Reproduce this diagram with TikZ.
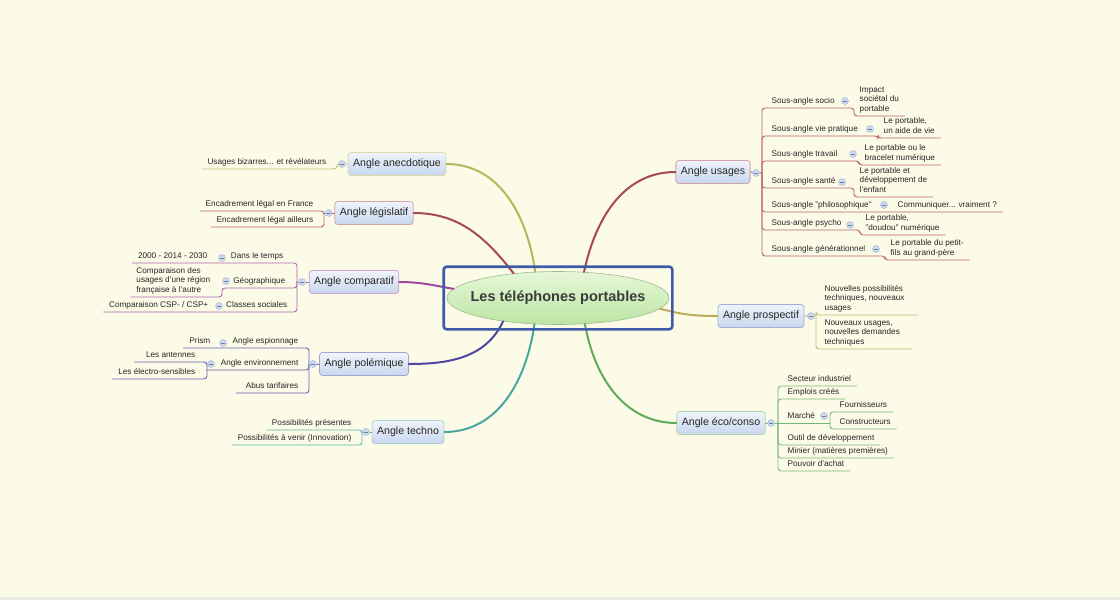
\documentclass[tikz,border=0pt]{standalone}
\usepackage{fontspec}
\setmainfont{Liberation Sans}
\usepackage{tikz}
\usetikzlibrary{shapes.geometric, fit, positioning}
\definecolor{bgc}{HTML}{FCFBE8}
\definecolor{stripc}{HTML}{ECECE6}
\definecolor{txt}{HTML}{262626}
\definecolor{tTop}{HTML}{F0F4FC}
\definecolor{tBot}{HTML}{C8D7EE}
\definecolor{rTop}{HTML}{E6F7D8}
\definecolor{rBot}{HTML}{BDE5A3}
\definecolor{rDraw}{HTML}{9DBB8E}
\definecolor{cFrame}{HTML}{3E5BA9}
\definecolor{fFill}{HTML}{CCDAF0}
\definecolor{fDraw}{HTML}{9FB3D6}
\definecolor{cAnec}{HTML}{B7B65A}
\definecolor{cLegis}{HTML}{A9475A}
\definecolor{cComp}{HTML}{A1479E}
\definecolor{cPolem}{HTML}{4D47A3}
\definecolor{cTechno}{HTML}{49A6A3}
\definecolor{cUsages}{HTML}{A9484F}
\definecolor{cProsp}{HTML}{BBAD58}
\definecolor{cEco}{HTML}{5FAA5B}
\newcommand{\leafsz}{\fontsize{8.2}{9.5}\selectfont}
\newcommand{\topicsz}{\fontsize{10.6}{12}\selectfont}
\newcommand{\rootsz}{\fontsize{14.5}{16}\selectfont\bfseries}

\begin{document}
\begin{tikzpicture}[x=1pt,y=-1pt,line cap=round,line join=round,
  leaf/.style={font=\leafsz, text=txt, inner xsep=1.5pt, inner ysep=2pt, text depth=2.5pt, align=left},
  topic/.style={rectangle, rounded corners=3pt, top color=tTop, bottom color=tBot, draw=#1, line width=0.8pt, font=\topicsz, text=txt, inner xsep=5pt, minimum height=23pt},
  fold/.style={circle, fill=fFill, draw=fDraw, line width=0.4pt, minimum size=7pt, inner sep=0pt,
    path picture={\draw[fDraw!70!black, line width=0.7pt] ([xshift=-1.8pt]path picture bounding box.center) -- ([xshift=1.8pt]path picture bounding box.center);}},
  link/.style={line width=2pt, #1},
  sub/.style={line width=0.9pt, rounded corners=3pt, #1!85}]

  % background
  \fill[bgc] (0,0) rectangle (1120,600);
  \fill[stripc] (0,597) rectangle (1120,600);

  % central topic
  \node[ellipse, minimum width=222pt, minimum height=53pt, inner sep=0pt, top color=rTop, bottom color=rBot,
    draw=rDraw, line width=0.6pt] (root) at (558,298) {};
  \node[font=\rootsz, text=txt!90] (roottxt) at (root.center) {Les téléphones portables};

  % main topics
  \node[topic=cAnec!50] (anec) at (397,164) {Angle anecdotique};
  \node[topic=cLegis!50] (legis) at (374,213) {Angle législatif};
  \node[topic=cComp!50] (comp) at (354,282) {Angle comparatif};
  \node[topic=cPolem!50] (polem) at (364,364) {Angle polémique};
  \node[topic=cTechno!50] (techno) at (408,432) {Angle techno};
  \node[topic=cUsages!50] (usages) at (713,172) {Angle usages};
  \node[topic=fDraw] (prosp) at (761,316) {Angle prospectif};
  \node[topic=cEco!50] (eco) at (721,423) {Angle éco/conso};

  % links to the centre
  \draw[link=cAnec] (anec.east) to[out=0,in=98] (root.131);
  \draw[link=cLegis] (legis.east) to[out=0,in=128] (root.151);
  \draw[link=cComp] (comp.east) to[out=0,in=170] (root.175);
  \draw[link=cPolem] (root.203) to[out=245,in=0] (polem.east);
  \draw[link=cTechno] (root.228) to[out=262,in=0] (techno.east);
  \draw[link=cUsages] (usages.west) to[out=180,in=78] (root.45);
  \draw[link=cProsp] (root.354) to[out=-15,in=180] (prosp.west);
  \draw[link=cEco] (root.316) to[out=280,in=180] (eco.west);
  \node[draw=cFrame, line width=2.6pt, rounded corners=3pt, inner xsep=3pt, inner ysep=4.5pt, fit=(root)] (frame) {};

  % anecdotique
  \coordinate (asp) at (337,164);
  \node[leaf, anchor=south east] (a1) at (328,169) {Usages bizarres... et révélateurs};
  \draw[sub=cAnec] (anec.west) -- (asp) |- (a1.south east) -- ([xshift=-4pt]a1.south west);

  % legislatif
  \coordinate (lsp) at (324,213);
  \node[leaf, anchor=south east] (l1) at (315,211) {Encadrement légal en France};
  \node[leaf, anchor=south east] (l2) at (315,227) {Encadrement légal ailleurs};
  \draw[sub=cLegis] (legis.west) -- (lsp);
  \draw[sub=cLegis] (lsp) |- (l1.south east) -- ([xshift=-4pt]l1.south west);
  \draw[sub=cLegis] (lsp) |- (l2.south east) -- ([xshift=-4pt]l2.south west);

  % comparatif
  \coordinate (csp) at (297,282);
  \node[leaf, anchor=south east] (k1) at (285,263) {Dans le temps};
  \node[leaf, anchor=south east] (k1c) at (209,263) {2000 - 2014 - 2030};
  \node[leaf, anchor=south east] (k2) at (287,288) {Géographique};
  \node[leaf, anchor=south east] (k2c) at (212,297) {Comparaison des\\usages d'une région\\française à l'autre};
  \node[leaf, anchor=south east] (k3) at (289,312) {Classes sociales};
  \node[leaf, anchor=south east] (k3c) at (210,312) {Comparaison CSP- / CSP+};
  \draw[sub=cComp] (comp.west) -- (csp);
  \draw[sub=cComp] (csp) |- (k1.south east) -- ([xshift=-4pt]k1c.south west);
  \draw[sub=cComp] (csp) |- (k2.south east) -| ([xshift=10pt]k2c.south east) -- ([xshift=-4pt]k2c.south west);
  \draw[sub=cComp] (csp) |- (k3.south east) -- ([xshift=-4pt]k3c.south west);

  % polemique
  \coordinate (qsp) at (309,364);
  \node[leaf, anchor=south east] (q1) at (300,348) {Angle espionnage};
  \node[leaf, anchor=south east] (q1c) at (212,348) {Prism};
  \node[leaf, anchor=south east] (q2) at (300,370) {Angle environnement};
  \coordinate (q2sp) at (207,370);
  \node[leaf, anchor=south east] (q2a) at (197,362) {Les antennes};
  \node[leaf, anchor=south east] (q2b) at (197,379) {Les électro-sensibles};
  \node[leaf, anchor=south east] (q3) at (300,393) {Abus tarifaires};
  \draw[sub=cPolem] (polem.west) -- (qsp);
  \draw[sub=cPolem] (qsp) |- (q1.south east) -- ([xshift=-4pt]q1c.south west);
  \draw[sub=cPolem] (qsp) |- (q2.south east) -- (q2sp);
  \draw[sub=cPolem] (q2sp) |- (q2a.south east) -- ([xshift=-10pt]q2a.south west);
  \draw[sub=cPolem] (q2sp) |- (q2b.south east) -- ([xshift=-4pt]q2b.south west);
  \draw[sub=cPolem] (qsp) |- (q3.south east) -- ([xshift=-8pt]q3.south west);

  % techno
  \coordinate (tsp) at (362,432);
  \node[leaf, anchor=south east] (t1) at (353,430) {Possibilités présentes};
  \node[leaf, anchor=south east] (t2) at (353,445) {Possibilités à venir (Innovation)};
  \draw[sub=cTechno] (techno.west) -- (tsp);
  \draw[sub=cTechno] (tsp) |- (t1.south east) -- ([xshift=-4pt]t1.south west);
  \draw[sub=cTechno] (tsp) |- (t2.south east) -- ([xshift=-4pt]t2.south west);

  % usages
  \coordinate (usp) at (762,173);
  \node[leaf, anchor=south west] (s1) at (770,108) {Sous-angle socio};
  \node[leaf, anchor=south west] (s1c) at (858,116) {Impact\\sociétal du\\portable};
  \node[leaf, anchor=south west] (s2) at (770,136) {Sous-angle vie pratique};
  \node[leaf, anchor=south west] (s2c) at (882,138) {Le portable,\\un aide de vie};
  \node[leaf, anchor=south west] (s3) at (770,161) {Sous-angle travail};
  \node[leaf, anchor=south west] (s3c) at (863,165) {Le portable ou le\\bracelet numérique};
  \node[leaf, anchor=south west] (s4) at (770,188) {Sous-angle santé};
  \node[leaf, anchor=south west] (s4c) at (858,197) {Le portable et\\développement de\\l'enfant};
  \node[leaf, anchor=south west] (s5) at (770,212) {Sous-angle "philosophique"};
  \node[leaf, anchor=south west] (s5c) at (896,212) {Communiquer... vraiment ?};
  \node[leaf, anchor=south west] (s6) at (770,230) {Sous-angle psycho};
  \node[leaf, anchor=south west] (s6c) at (864,235) {Le portable,\\"doudou" numérique};
  \node[leaf, anchor=south west] (s7) at (770,256) {Sous-angle générationnel};
  \node[leaf, anchor=south west] (s7c) at (889,260) {Le portable du petit-\\fils au grand-père};
  \draw[sub=cUsages] (usages.east) -- (usp);
  \draw[sub=cUsages] (usp) |- (s1.south west) -| ([xshift=-4pt]s1c.south west) -- ([xshift=4pt]s1c.south east);
  \draw[sub=cUsages] (usp) |- (s2.south west) -| ([xshift=-4pt]s2c.south west) -- ([xshift=4pt]s2c.south east);
  \draw[sub=cUsages] (usp) |- (s3.south west) -| ([xshift=-4pt]s3c.south west) -- ([xshift=4pt]s3c.south east);
  \draw[sub=cUsages] (usp) |- (s4.south west) -| ([xshift=-4pt]s4c.south west) -- ([xshift=4pt]s4c.south east);
  \draw[sub=cUsages] (usp) |- (s5.south west) -- ([xshift=4pt]s5c.south east);
  \draw[sub=cUsages] (usp) |- (s6.south west) -| ([xshift=-4pt]s6c.south west) -- ([xshift=4pt]s6c.south east);
  \draw[sub=cUsages] (usp) |- (s7.south west) -| ([xshift=-4pt]s7c.south west) -- ([xshift=4pt]s7c.south east);

  % prospectif
  \coordinate (psp) at (816,315);
  \node[leaf, anchor=south west] (p1) at (823,315) {Nouvelles possibilités\\techniques, nouveaux\\usages};
  \node[leaf, anchor=south west] (p2) at (823,349) {Nouveaux usages,\\nouvelles demandes\\techniques};
  \draw[sub=cProsp] (prosp.east) -- (psp);
  \draw[sub=cProsp] (psp) |- (p1.south west) -- ([xshift=12pt]p1.south east);
  \draw[sub=cProsp] (psp) |- (p2.south west) -- ([xshift=10pt]p2.south east);

  % eco/conso
  \coordinate (esp) at (778,423);
  \node[leaf, anchor=south west] (e1) at (786,386) {Secteur industriel};
  \node[leaf, anchor=south west] (e2) at (786,399) {Emplois créés};
  \node[leaf, anchor=south west] (e3) at (786,423) {Marché};
  \coordinate (e3sp) at (830,423);
  \node[leaf, anchor=south west] (f1) at (838,412) {Fournisseurs};
  \node[leaf, anchor=south west] (f2) at (838,429) {Constructeurs};
  \node[leaf, anchor=south west] (e4) at (786,445) {Outil de développement};
  \node[leaf, anchor=south west] (e5) at (786,458) {Minier (matières premières)};
  \node[leaf, anchor=south west] (e6) at (786,471) {Pouvoir d'achat};
  \draw[sub=cEco] (eco.east) -- (esp);
  \draw[sub=cEco] (esp) |- (e1.south west) -- ([xshift=4pt]e1.south east);
  \draw[sub=cEco] (esp) |- (e2.south west) -- ([xshift=4pt]e2.south east);
  \draw[sub=cEco] (esp) -- (e3sp);
  \draw[sub=cEco] (e3sp) |- (f1.south west) -- ([xshift=4pt]f1.south east);
  \draw[sub=cEco] (e3sp) |- (f2.south west) -- ([xshift=4pt]f2.south east);
  \draw[sub=cEco] (esp) |- (e4.south west) -- ([xshift=4pt]e4.south east);
  \draw[sub=cEco] (esp) |- (e5.south west) -- ([xshift=4pt]e5.south east);
  \draw[sub=cEco] (esp) |- (e6.south west) -- ([xshift=4pt]e6.south east);

  % fold markers
  \node[fold] (am) at (342,164) {};
  \node[fold] (lm) at (328.5,213) {};
  \node[fold] (cm) at (302,282) {};
  \node[fold] (k1m) at (222,258) {};
  \node[fold] (k2m) at (226,281) {};
  \node[fold] (k3m) at (219,306) {};
  \node[fold] (qm) at (313,364) {};
  \node[fold] (q1m) at (223,343) {};
  \node[fold] (q2m) at (211,364) {};
  \node[fold] (tm) at (366,432) {};
  \node[fold] (um) at (756,173) {};
  \node[fold] (s1m) at (845,101) {};
  \node[fold] (s2m) at (870,129) {};
  \node[fold] (s3m) at (853,154) {};
  \node[fold] (s4m) at (842,182) {};
  \node[fold] (s5m) at (884,205) {};
  \node[fold] (s6m) at (850,225) {};
  \node[fold] (s7m) at (876,249) {};
  \node[fold] (pm) at (811,316) {};
  \node[fold] (em) at (771,423) {};
  \node[fold] (e3m) at (824,416) {};
\end{tikzpicture}
\end{document}
